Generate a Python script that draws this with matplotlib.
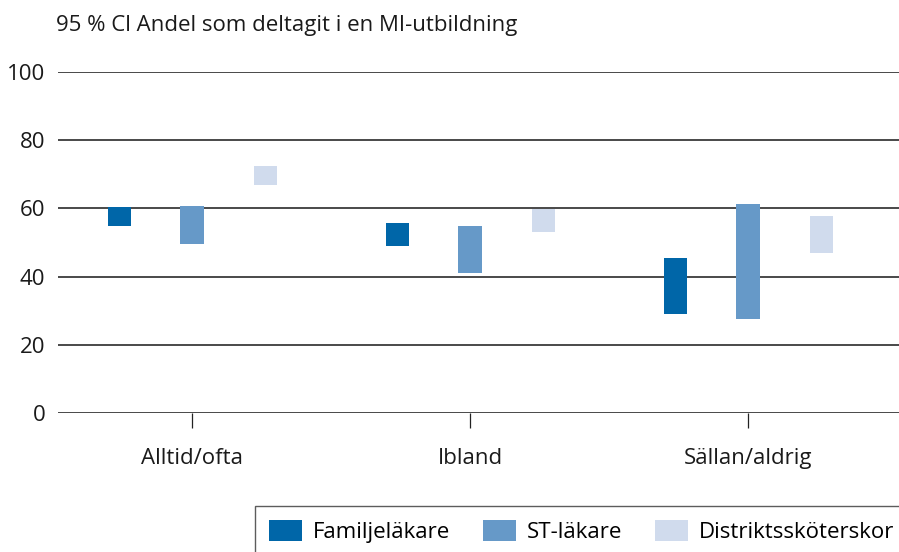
import matplotlib
matplotlib.use("Agg")
from matplotlib import pyplot as plt
from matplotlib.patches import Patch
import numpy as np

plt.rcParams['font.family'] = ['Open Sans', 'DejaVu Sans']

categories = ['Alltid/ofta', 'Ibland', 'Sällan/aldrig']
groups = ['Familjeläkare', 'ST-läkare', 'Distriktssköterskor']
colors = ['#0066a8', '#6699c8', '#d0dbed']

# 95 % CI, lower and upper bounds per group
fam_low = [54.8, 49.0, 29.0]
fam_high = [60.4, 55.7, 45.5]
st_low = [49.6, 41.1, 27.6]
st_high = [60.7, 54.8, 61.3]
dist_low = [66.9, 53.1, 46.9]
dist_high = [72.4, 59.8, 57.8]

lows = [fam_low, st_low, dist_low]
highs = [fam_high, st_high, dist_high]

fs = 16

fig = plt.figure(figsize=(8.99, 5.52), dpi=100)
ax = fig.add_axes([58 / 899, 139 / 552, 1 - 58 / 899, 341 / 552])

x = np.arange(len(categories))
offsets = [-0.26, 0.0, 0.265]
width = 0.083

for i in range(3):
    lo = np.array(lows[i])
    hi = np.array(highs[i])
    ax.bar(x + offsets[i], hi - lo, bottom=lo, width=width,
           color=colors[i], zorder=3)

ax.set_ylim(0, 100)
ax.set_xlim(-0.482, 2.543)
ax.set_yticks([0, 20, 40, 60, 80, 100])
ax.yaxis.grid(True, color='#2a2a2a', linewidth=1.2, zorder=1)
ax.set_axisbelow(True)
for s in ax.spines.values():
    s.set_visible(False)

ax.set_xticks(x)
ax.set_xticklabels(categories, fontsize=fs, color='#1a1a1a')
ax.tick_params(axis='x', length=10.5, width=0.9, color='#222222', pad=15, direction='out')
ax.tick_params(axis='y', length=0, pad=9, labelsize=fs, labelcolor='#1a1a1a')

fig.text(56 / 899, 1 - 26 / 552, '95 % Cl Andel som deltagit i en MI-utbildning',
         fontsize=fs, color='#1a1a1a', va='center', ha='left')

handles = [Patch(facecolor=c, edgecolor='none') for c in colors]
leg = fig.legend(handles, groups, ncol=3, loc='upper left',
                 bbox_to_anchor=(255 / 899, 1 - 506 / 552),
                 fontsize=fs, frameon=True, fancybox=False,
                 handlelength=1.45, handleheight=1.05, handletextpad=0.5,
                 columnspacing=1.5, borderpad=0.65, borderaxespad=0)
leg.get_frame().set_edgecolor('#333333')
leg.get_frame().set_linewidth(1.0)

fig.savefig('out.png', dpi=100)
